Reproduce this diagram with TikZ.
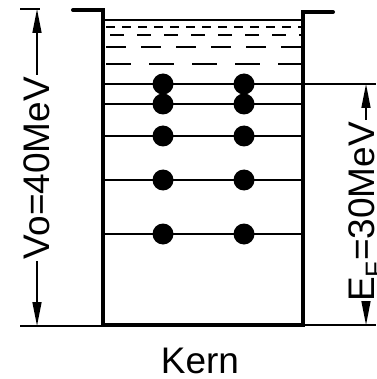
\documentclass[tikz,border=0pt]{standalone}
\usepackage{fontspec}
\setmainfont{Liberation Sans}
\usetikzlibrary{arrows.meta}
\begin{document}
\begin{tikzpicture}[x=1pt,y=-1pt,
  wall/.style={line width=4pt, line join=miter, line cap=round},
  level/.style={line width=2pt},
  thinline/.style={line width=1.5pt},
  dimarrow/.style={line width=1.6pt, -{Triangle[length=24pt,width=9pt]}},
  electron/.style={circle, fill=black, minimum size=21pt, inner sep=0pt},
  lbl/.style={font=\fontsize{37}{40}\selectfont, inner sep=2pt}]
\useasboundingbox (0,0) rectangle (376,379);
% well
\draw[wall] (73,10) -- (103,10) -- (103,325) -- (303,325) -- (303,12) -- (333,12);
% top region lines
\draw[thinline] (103,20) -- (303,20);
\draw[thinline, dash pattern=on 9pt off 7pt] (106,27) -- (303,27);
\draw[thinline, dash pattern=on 14pt off 13pt] (110,35) -- (303,35);
\draw[thinline, dash pattern=on 20pt off 15pt] (106,47) -- (303,47);
\draw[thinline, dash pattern=on 25pt off 18pt] (106,64) -- (303,64);
% occupied levels
\foreach \y in {84,104,136,180,234} {
  \draw[level] (103,\y) -- (303,\y);
}
\foreach \y [count=\i] in {84,104,136,180,234} {
  \node[electron] (l\i) at (163,\y) {};
  \node[electron] (r\i) at (244,\y) {};
}
% reference lines
\draw[thinline] (303,84) -- (376,84);
\draw[thinline] (303,325) -- (376,325);
\draw[thinline] (20,326) -- (103,326);
\draw[thinline] (20,9) -- (40,9);
% dimension labels
\node[lbl, rotate=90] (vo) at (37,168) {Vo=40MeV};
\coordinate (votop) at (37,9);
\coordinate (vobot) at (37,326);
\draw[dimarrow] (vo.east) -- (votop);
\draw[dimarrow] (vo.west) -- (vobot);
\node[lbl, rotate=90] (ef) at (366,212) {E\textsubscript{F}=30MeV};
\coordinate (eftop) at (366,84);
\coordinate (efbot) at (366,325);
\draw[dimarrow] (ef.east) -- (eftop);
\draw[dimarrow] (ef.west) -- (efbot);
\node[lbl] (kern) at (200,361) {Kern};
\end{tikzpicture}
\end{document}
